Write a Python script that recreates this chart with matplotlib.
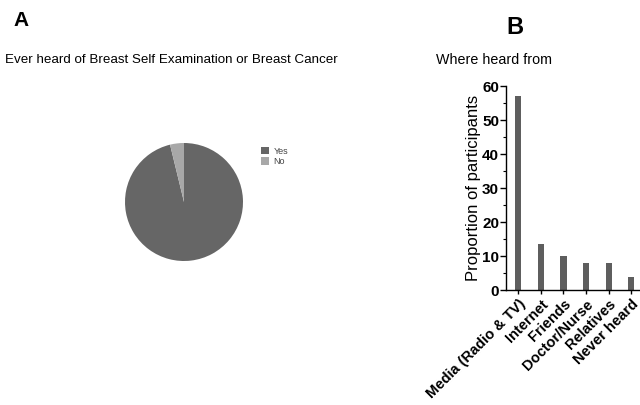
import matplotlib
matplotlib.use("Agg")
import matplotlib.pyplot as plt
import numpy as np

plt.rcParams['font.family'] = ['Liberation Sans', 'DejaVu Sans']

# data
pie_labels = ['Yes', 'No']
pie_values = [96.2, 3.8]
pie_colors = ['#666666', '#a8a8a8']

sources = ['Media (Radio & TV)', 'Internet', 'Friends', 'Doctor/Nurse',
           'Relatives', 'Never heard']
proportions = [57, 13.5, 10, 7.8, 7.8, 3.8]

fig = plt.figure(figsize=(6.4, 4.05), dpi=100)

# panel A - pie
fig.text(21/640, 1 - 21/405, 'A', fontsize=15, fontweight='bold', va='center', ha='center')
fig.text(5/640, 1 - 60/405, 'Ever heard of Breast Self Examination or Breast Cancer',
         fontsize=9.6, va='center', ha='left')

ax1 = fig.add_axes([125/640, 1 - 261/405, 118/640, 118/405])
wedges, _ = ax1.pie(pie_values, colors=pie_colors, startangle=90, counterclock=False,
                    wedgeprops=dict(linewidth=0))
ax1.set_xlim(-1, 1)
ax1.set_ylim(-1, 1)
ax1.set_aspect('equal')
fig.legend(wedges, pie_labels, loc='upper left', bbox_to_anchor=(257/640, 1 - 143/405),
           frameon=False, fontsize=6.5, handlelength=0.9, handleheight=0.9,
           handletextpad=0.5, labelspacing=0.15, borderaxespad=0, labelcolor='#444444')

# panel B - bars
fig.text(515/640, 1 - 27/405, 'B', fontsize=17, fontweight='bold', va='center', ha='center')
fig.text(436/640, 1 - 60/405, 'Where heard from', fontsize=10.3, va='center', ha='left')

ax2 = fig.add_axes([506/640, 1 - 290/405, 133/640, 204/405])
x = np.arange(len(sources))
ax2.bar(x, proportions, width=0.27, color='#5e5e5e')
ax2.set_xlim(-0.55, 5.35)
ax2.set_ylim(0, 60)
ax2.set_yticks([0, 10, 20, 30, 40, 50, 60])
ax2.set_yticks(np.arange(0, 61, 5), minor=True)
ax2.set_xticks(x)
ax2.set_xticklabels(sources, rotation=45, ha='right', rotation_mode='anchor',
                    fontsize=10.5, fontweight='bold')
for lab in ax2.get_yticklabels():
    lab.set_fontweight('bold')
    lab.set_fontsize(11)
ax2.set_ylabel('Proportion of participants', fontsize=12, labelpad=1)
ax2.spines['top'].set_visible(False)
ax2.spines['right'].set_visible(False)
ax2.spines['left'].set_linewidth(1.0)
ax2.spines['bottom'].set_linewidth(1.0)
ax2.tick_params(axis='y', which='major', length=4, width=1, pad=1)
ax2.tick_params(axis='y', which='minor', length=2, width=0.8)
ax2.tick_params(axis='x', length=3, width=1, pad=2)

fig.savefig('out.png', dpi=100)
